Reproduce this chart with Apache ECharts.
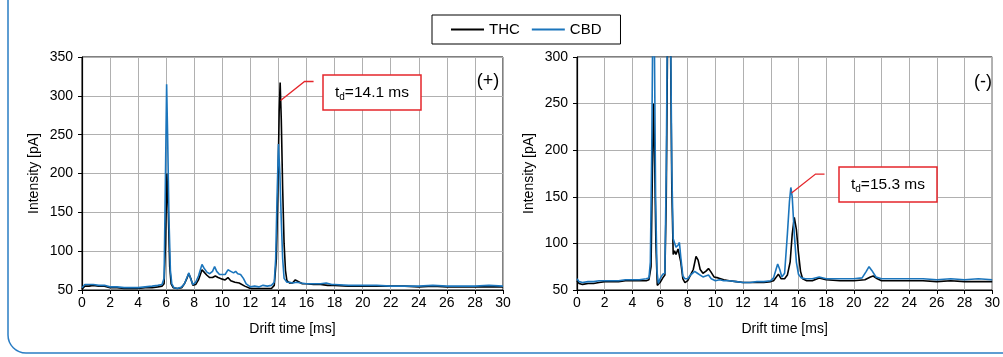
<!DOCTYPE html>
<html>
<head>
<meta charset="utf-8">
<script src="https://cdn.jsdelivr.net/npm/echarts@6/dist/echarts.min.js"></script>
<style>
  html, body { margin: 0; padding: 0; background: #fff; }
  #chart { width: 1003px; height: 357px; }
</style>
</head>
<body>
<div id="chart"></div>
<script>
// drift time [ms] / intensity [pA] pairs
const thcPositive = [
  [0,51],[0.2,55],[0.5,55],[0.8,56],[1.2,55],[1.6,55],[2,53],[2.5,53],[3,52],[3.5,52],[4,52],[4.5,53],[5,53],[5.4,54],[5.7,55],
  [5.85,58],[5.95,110],[6.05,200],[6.15,150],[6.25,80],[6.35,58],[6.5,53],[6.8,52],[7.1,53],[7.3,58],[7.5,66],[7.6,71],[7.75,65],
  [7.9,56],[8.1,57],[8.3,63],[8.55,76],[8.7,73],[8.9,69],[9.1,66],[9.3,66],[9.5,68],[9.7,66],[10,64],[10.2,63],[10.4,66],[10.6,62],
  [10.9,60],[11.2,59],[11.6,55],[12,52],[12.4,52],[12.8,52],[13.2,52],[13.5,52],[13.7,56],[13.85,90],[13.95,170],[14.05,280],
  [14.12,317],[14.2,270],[14.3,180],[14.4,110],[14.5,75],[14.6,62],[14.8,59],[15,59],[15.2,63],[15.4,61],[15.7,58],[16,58],
  [16.5,57],[17,57],[17.5,56],[18,56],[19,55],[20,55],[21,55],[22,55],[23,55],[24,54],[25,55],[26,54],[27,54],[28,54],[29,54],[30,54]
];
const cbdPositive = [
  [0,53],[0.2,57],[0.5,57],[0.8,57],[1.2,56],[1.6,56],[2,54],[2.5,54],[3,53],[3.5,53],[4,53],[4.5,54],[5,55],[5.4,56],[5.7,57],
  [5.85,65],[5.95,200],[6.03,315],[6.1,250],[6.2,140],[6.3,75],[6.4,58],[6.55,53],[6.8,52],[7.1,54],[7.3,58],[7.5,67],[7.62,72],
  [7.75,64],[7.9,57],[8.1,60],[8.3,68],[8.55,83],[8.7,78],[8.9,73],[9.1,71],[9.3,74],[9.45,80],[9.6,74],[9.8,70],[10,70],[10.2,70],
  [10.4,76],[10.6,74],[10.8,72],[10.95,74],[11.1,71],[11.3,70],[11.5,65],[11.7,58],[12,54],[12.3,55],[12.6,54],[12.9,56],[13.2,55],
  [13.5,56],[13.7,60],[13.8,90],[13.9,170],[14.0,238],[14.1,200],[14.2,140],[14.3,90],[14.4,65],[14.6,60],[14.8,60],[15,59],
  [15.3,60],[15.6,59],[16,58],[16.5,58],[17,58],[17.4,59],[17.8,57],[18,57],[19,56],[20,56],[21,56],[22,55],[23,55],[24,55],
  [25,56],[26,55],[27,55],[28,55],[29,56],[30,55]
];
const thcNegative = [
  [0,60],[0.15,57],[0.4,56],[0.8,57],[1.2,57],[1.6,58],[2,59],[2.5,59],[3,59],[3.5,60],[4,60],[4.5,60],[5,60],[5.2,61],
  [5.35,75],[5.45,180],[5.53,250],[5.6,200],[5.7,100],[5.8,55],[5.88,53],[6.0,58],[6.2,63],[6.35,66],[6.45,150],[6.55,330],
  [6.65,380],[6.75,330],[6.85,160],[6.95,88],[7.05,92],[7.15,88],[7.3,94],[7.4,95],[7.5,80],[7.65,62],[7.8,58],[8,60],[8.2,66],
  [8.4,72],[8.6,86],[8.75,82],[8.9,72],[9.1,68],[9.3,70],[9.5,73],[9.65,70],[9.9,64],[10.2,63],[10.6,61],[11,60],[11.5,59],
  [12,58],[12.5,58],[13,58],[13.5,58],[14,59],[14.2,60],[14.4,64],[14.55,67],[14.75,62],[15,62],[15.2,66],[15.4,80],[15.55,110],
  [15.7,128],[15.85,115],[16,90],[16.15,70],[16.3,62],[16.6,60],[17,60],[17.5,63],[18,61],[19,60],[20,60],[20.8,61],[21.2,64],
  [21.4,65],[21.7,62],[22,60],[23,60],[24,60],[25,60],[26,59],[27,60],[28,59],[29,59],[30,59]
];
const cbdNegative = [
  [0,62],[0.15,59],[0.4,58],[0.8,59],[1.2,59],[1.6,60],[2,60],[2.5,60],[3,60],[3.5,61],[4,61],[4.5,61],[5,62],[5.2,63],
  [5.3,80],[5.4,200],[5.5,380],[5.6,300],[5.68,150],[5.78,70],[5.88,57],[6.0,62],[6.2,67],[6.35,68],[6.45,180],[6.55,380],
  [6.65,400],[6.75,350],[6.85,180],[6.95,105],[7.05,104],[7.15,96],[7.3,98],[7.4,101],[7.5,85],[7.65,65],[7.8,62],[8,62],
  [8.2,66],[8.5,70],[8.7,68],[8.9,66],[9.1,64],[9.3,65],[9.5,66],[9.7,62],[10,60],[10.3,61],[10.6,60],[11,60],[11.5,59],
  [12,58],[12.5,58],[13,59],[13.5,59],[14,60],[14.2,63],[14.4,73],[14.5,78],[14.65,72],[14.8,64],[15,68],[15.2,110],
  [15.35,145],[15.45,160],[15.55,150],[15.7,110],[15.85,80],[16,67],[16.2,63],[16.5,62],[17,62],[17.5,64],[18,62],[19,62],
  [20,62],[20.6,63],[20.9,70],[21.1,75],[21.3,71],[21.6,64],[22,62],[23,62],[24,62],[25,62],[26,61],[27,62],[28,61],[29,62],[30,61]
];
const seriesNames = ['THC', 'CBD'];
const peakPositive = [14.15, 294];
const peakNegative = [15.5, 154];

const font = 'Liberation Sans, Arial, sans-serif';
const chart = echarts.init(document.getElementById('chart'));

const xAxisOf = (gridIndex) => ({
  type: 'value', gridIndex, min: 0, max: 30, interval: 2,
  name: 'Drift time [ms]', nameLocation: 'middle', nameGap: 32,
  nameTextStyle: { color: '#000', fontSize: 14, fontFamily: font },
  axisLine: { lineStyle: { color: '#000', width: 1.2 } },
  axisTick: { show: true, length: 4, lineStyle: { color: '#000' } },
  axisLabel: { color: '#000', fontSize: 14, fontFamily: font, margin: 6 },
  splitLine: { show: true, lineStyle: { color: '#b0b0b0', width: 1 } }
});
const yAxisOf = (gridIndex, max, gap) => ({
  type: 'value', gridIndex, min: 50, max, interval: 50,
  name: 'Intensity [pA]', nameLocation: 'middle', nameGap: gap,
  nameTextStyle: { color: '#000', fontSize: 14, fontFamily: font },
  axisLine: { show: true, lineStyle: { color: '#000', width: 1.2 } },
  axisTick: { show: true, length: 4, lineStyle: { color: '#000' } },
  axisLabel: { color: '#000', fontSize: 14, fontFamily: font, margin: 9 },
  splitLine: { show: true, lineStyle: { color: '#b0b0b0', width: 1 } }
});
const lineOf = (name, data, idx, color) => ({
  name, type: 'line', data, xAxisIndex: idx, yAxisIndex: idx,
  showSymbol: false, clip: true, color,
  lineStyle: { color, width: 1.6 }
});

const option = {
  animation: false,
  backgroundColor: '#fff',
  legend: {
    data: seriesNames, left: 432, top: 15,
    borderColor: '#000', borderWidth: 1, padding: [7, 19, 7, 19],
    itemWidth: 33, itemHeight: 2, itemGap: 12, icon: 'rect',
    textStyle: { color: '#000', fontSize: 15, fontFamily: font }
  },
  grid: [
    { left: 82, top: 57, width: 421, height: 233, show: true, borderColor: '#000', borderWidth: 1 },
    { left: 577, top: 57, width: 421, height: 233, show: true, borderColor: '#000', borderWidth: 1 }
  ],
  xAxis: [xAxisOf(0), xAxisOf(1)],
  yAxis: [yAxisOf(0, 350, 41), yAxisOf(1, 300, 41)],
  series: [
    lineOf(seriesNames[0], thcPositive, 0, '#000'),
    lineOf(seriesNames[1], cbdPositive, 0, '#1b75bc'),
    lineOf(seriesNames[0], thcNegative, 1, '#000'),
    lineOf(seriesNames[1], cbdNegative, 1, '#1b75bc')
  ]
};
chart.setOption(option);

const pa = chart.convertToPixel({ gridIndex: 0 }, peakPositive);
const pb = chart.convertToPixel({ gridIndex: 1 }, peakNegative);
const callout = (p, box, label) => [
  { type: 'polyline', shape: { points: [p, [p[0] + 24, p[1] - 19], [p[0] + 33, p[1] - 19]] },
    style: { stroke: '#e5262b', lineWidth: 1.3, fill: null }, z: 10 },
  { type: 'rect', shape: { x: box[0], y: box[1], width: 98, height: 35 },
    style: { stroke: '#e5262b', lineWidth: 1.5, fill: '#fff' }, z: 10 },
  { type: 'text', x: box[0] + 49, y: box[1] + 18, z: 11,
    style: { text: '{t|t}{s|d}{t|=' + label + '}', align: 'center', verticalAlign: 'middle',
      rich: { t: { fontSize: 15.5, fontFamily: font, fill: '#000' },
              s: { fontSize: 10, fontFamily: font, fill: '#000', padding: [9, 0, 0, 0] } } } }
];
chart.setOption({
  graphic: [
    { type: 'rect', shape: { x: 8, y: -30, width: 1100, height: 383, r: 18 },
      style: { stroke: '#2a7dc4', lineWidth: 1.5, fill: null }, z: -1 },
    ...callout(pa, [323, 75], '14.1 ms'),
    ...callout(pb, [839, 167], '15.3 ms'),
    { type: 'text', x: 488, y: 81, style: { text: '(+)', fontSize: 18, fontFamily: font, fill: '#000', align: 'center', verticalAlign: 'middle' } },
    { type: 'text', x: 983, y: 82, style: { text: '(-)', fontSize: 18, fontFamily: font, fill: '#000', align: 'center', verticalAlign: 'middle' } }
  ]
});
</script>
</body>
</html>
